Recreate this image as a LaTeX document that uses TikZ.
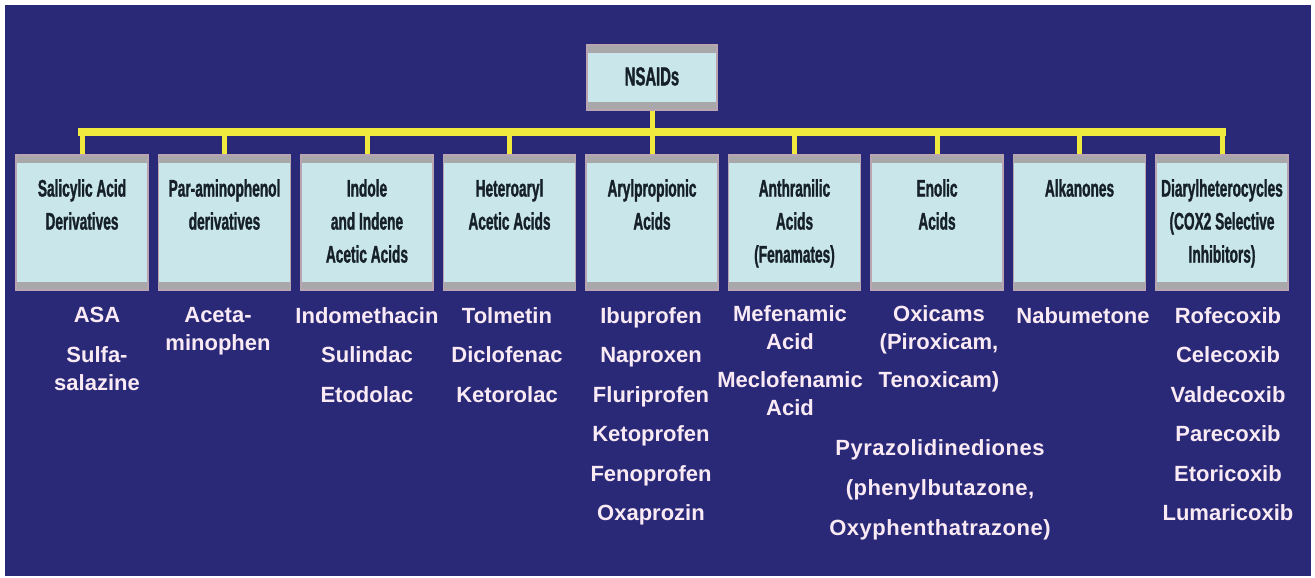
\documentclass[tikz,border=0pt]{standalone}
\usepackage{fontspec}
\setmainfont{Liberation Sans}
\newfontfamily\narrowfont[FakeStretch=0.57, FakeBold=1.2]{Liberation Sans}
\newfontfamily\widefont[LetterSpace=2.3]{Liberation Sans}
\usepackage{tikz}

\definecolor{bgblue}{RGB}{42,41,120}
\definecolor{boxfill}{RGB}{201,230,235}
\definecolor{boxgray}{RGB}{168,168,170}
\definecolor{boxedge}{RGB}{185,165,178}
\definecolor{boxink}{RGB}{22,32,40}
\definecolor{busyellow}{RGB}{240,234,62}
\definecolor{drugpink}{RGB}{250,234,244}

\tikzset{
    catbox/.style={draw=boxedge, line width=1.2pt, fill=boxfill, inner sep=0pt,
        minimum width=132pt, minimum height=135pt,
        path picture={
            \fill[boxgray] (path picture bounding box.north west) rectangle ([yshift=-8pt]path picture bounding box.north east);
            \fill[boxgray] (path picture bounding box.south west) rectangle ([yshift=8pt]path picture bounding box.south east);
        }},
    catlabel/.style={text=boxink, align=center, anchor=north, inner sep=0pt,
        font=\narrowfont\bfseries\fontsize{24}{33}\selectfont},
    druglist/.style={text=drugpink, align=center, anchor=north, inner sep=0pt,
        font=\bfseries\fontsize{22}{28}\selectfont},
    bus/.style={draw=busyellow, line width=8pt, line cap=rect},
    stem/.style={draw=busyellow, line width=5pt}
}

\begin{document}
\begin{tikzpicture}[x=1pt, y=-1pt]
    \useasboundingbox (0,0) rectangle (1315,578);
    \fill[bgblue] (5,5) rectangle (1311,576);

    % Nodes
    \node[catbox, minimum width=130pt, minimum height=65pt] (top) at (652,77.5) {};
    \node[catlabel, font=\narrowfont\bfseries\fontsize{26}{30}\selectfont] (toplabel) at (652,67) {NSAIDs};

    \node[catbox] (b1) at (82,222.5) {};
    \node[catbox] (b2) at (224.5,222.5) {};
    \node[catbox] (b3) at (367,222.5) {};
    \node[catbox] (b4) at (509.5,222.5) {};
    \node[catbox] (b5) at (652,222.5) {};
    \node[catbox] (b6) at (794.5,222.5) {};
    \node[catbox] (b7) at (937,222.5) {};
    \node[catbox] (b8) at (1079.5,222.5) {};
    \node[catbox] (b9) at (1222,222.5) {};

    \node[catlabel] (l1) at (82,179) {Salicylic Acid\\Derivatives};
    \node[catlabel] (l2) at (224.5,179) {Par-aminophenol\\derivatives};
    \node[catlabel] (l3) at (367,179) {Indole\\and Indene\\Acetic Acids};
    \node[catlabel] (l4) at (509.5,179) {Heteroaryl\\Acetic Acids};
    \node[catlabel] (l5) at (652,179) {Arylpropionic\\Acids};
    \node[catlabel] (l6) at (794.5,179) {Anthranilic\\Acids\\(Fenamates)};
    \node[catlabel] (l7) at (937,179) {Enolic\\Acids};
    \node[catlabel] (l8) at (1079.5,179) {Alkanones};
    \node[catlabel] (l9) at (1222,179) {Diarylheterocycles\\(COX2 Selective\\Inhibitors)};

    % drug names
    \node[druglist] (d1) at (97,307) {ASA\\[11.5pt]Sulfa-\\salazine};
    \node[druglist] (d2) at (218,307) {Aceta-\\minophen};
    \node[druglist] (d3) at (367,307) {Indomethacin\\[11.5pt]Sulindac\\[11.5pt]Etodolac};
    \node[druglist] (d4) at (507,307) {Tolmetin\\[11.5pt]Diclofenac\\[11.5pt]Ketorolac};
    \node[druglist] (d5) at (651,307) {Ibuprofen\\[11.5pt]Naproxen\\[11.5pt]Fluriprofen\\[11.5pt]Ketoprofen\\[11.5pt]Fenoprofen\\[11.5pt]Oxaprozin};
    \node[druglist] (d6) at (790,305) {Mefenamic\\Acid\\[10pt]Meclofenamic\\Acid};
    \node[druglist] (d7) at (939,305) {Oxicams\\(Piroxicam,\\[10pt]Tenoxicam)};
    \node[druglist, font=\widefont\bfseries\fontsize{22}{28}\selectfont] (d7b) at (940,439) {Pyrazolidinediones\\[12pt](phenylbutazone,\\[12pt]Oxyphenthatrazone)};
    \node[druglist] (d8) at (1083,307) {Nabumetone};
    \node[druglist] (d9) at (1228,307) {Rofecoxib\\[11.5pt]Celecoxib\\[11.5pt]Valdecoxib\\[11.5pt]Parecoxib\\[11.5pt]Etoricoxib\\[11.5pt]Lumaricoxib};

    % connectors
    \coordinate (busline) at (0,132);
    \draw[stem] (top.south) -- (top.south |- busline);
    \draw[bus] (b1.north |- busline) -- (b9.north |- busline);
    \foreach \i in {1,...,9}
        \draw[stem] (b\i.north |- busline) -- (b\i.north);
\end{tikzpicture}
\end{document}
